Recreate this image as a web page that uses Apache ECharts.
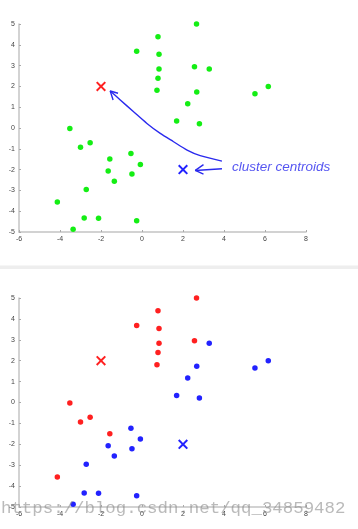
<!DOCTYPE html>
<html>
<head>
<meta charset="utf-8">
<script src="https://cdn.jsdelivr.net/npm/echarts@6/dist/echarts.min.js"></script>
<style>
html,body{margin:0;padding:0;background:#fff;}
#chart{width:358px;height:529px;}
</style>
</head>
<body>
<div id="chart"></div>
<script>
// ---- data ----
const pointsX = [0.78, -0.26, 0.83, 0.83, 0.78, 0.73, 1.69, -3.52, -2.53, -3.00, -0.54, -1.57, -0.08, -1.65, -0.49, -1.35, -2.72, -4.13, -2.82, -2.12, -0.26, -3.36, 2.66, 2.56, 3.28, 2.67, 2.23, 2.80, 5.51, 6.16];
const pointsY = [4.39, 3.69, 3.54, 2.84, 2.39, 1.81, 0.34, -0.02, -0.71, -0.93, -1.23, -1.49, -1.75, -2.07, -2.21, -2.56, -2.96, -3.56, -4.33, -4.34, -4.46, -4.87, 5.00, 2.95, 2.84, 1.73, 1.17, 0.21, 1.65, 2.00];
const clusterOf = ['R','R','R','R','R','R','B','R','R','R','B','R','B','B','B','B','B','R','B','B','B','B','R','R','B','B','B','B','B','B'];
const centroidRed = [-2, 2];
const centroidBlue = [2, -2];
const xTicks = [-6, -4, -2, 0, 2, 4, 6, 8];
const yTicks = [-5, -4, -3, -2, -1, 0, 1, 2, 3, 4, 5];
// hand-drawn annotation (data coordinates of the top panel)
const curveX = [-1.55, -1.06, -0.41, 0.24, 0.89, 1.54, 2.20, 2.84, 3.90];
const curveY = [1.78, 1.35, 0.78, 0.22, -0.26, -0.66, -1.06, -1.33, -1.59];
const bigHeadX = [-1.17, -1.55, -1.41];
const bigHeadY = [1.67, 1.78, 1.35];
const smallShaftX = [3.90, 2.60];
const smallShaftY = [-1.96, -2.04];
const smallHeadX = [3.00, 2.60, 3.00];
const smallHeadY = [-1.76, -2.04, -2.22];
const noteText = 'cluster centroids';
const notePos = [4.39, -1.87];
const watermark = 'https://blog.csdn.net/qq_34859482';

// ---- build ----
const zip = (xs, ys) => xs.map((x, i) => [x, ys[i]]);
const allPts = zip(pointsX, pointsY);
const redPts = allPts.filter((p, i) => clusterOf[i] === 'R');
const bluePts = allPts.filter((p, i) => clusterOf[i] === 'B');

const GREEN = '#14ee14', RED = '#ff2020', BLUE = '#2222ff', PEN = '#2a2aee';
const XPATH = 'path://M0,1.4L1.4,0L5,3.6L8.6,0L10,1.4L6.4,5L10,8.6L8.6,10L5,6.4L1.4,10L0,8.6L3.6,5Z';

function xAx(gi) {
  return {
    type: 'value', gridIndex: gi, min: xTicks[0], max: xTicks[xTicks.length - 1], interval: 2,
    axisLine: { onZero: false, lineStyle: { color: '#c4c4c4', width: 1.5 } },
    axisTick: { inside: true, length: 2, lineStyle: { color: '#aaa' } },
    axisLabel: { fontSize: 7, color: '#444', margin: 4, fontFamily: 'Liberation Sans' },
    splitLine: { show: false }
  };
}
function yAx(gi) {
  return {
    type: 'value', gridIndex: gi, min: yTicks[0], max: yTicks[yTicks.length - 1], interval: 1,
    axisLine: { onZero: false, lineStyle: { color: '#c4c4c4', width: 1.5 } },
    axisTick: { inside: true, length: 2, lineStyle: { color: '#aaa' } },
    axisLabel: { fontSize: 7, color: '#444', margin: 4, fontFamily: 'Liberation Sans' },
    splitLine: { show: false }
  };
}
const penLine = (xs, ys, smooth) => ({
  type: 'line', xAxisIndex: 0, yAxisIndex: 0, data: zip(xs, ys), smooth: smooth || false,
  symbol: 'none', lineStyle: { color: PEN, width: 1.4 }, silent: true, animation: false, z: 3
});
const cross = (gi, pt, color) => ({
  type: 'scatter', xAxisIndex: gi, yAxisIndex: gi, data: [pt], symbol: XPATH, symbolSize: 10,
  itemStyle: { color: color, opacity: 1 }, animation: false, z: 4
});
const dots = (gi, data, color) => ({
  type: 'scatter', xAxisIndex: gi, yAxisIndex: gi, data: data, symbol: 'circle', symbolSize: 5.5,
  itemStyle: { color: color, opacity: 1 }, animation: false, z: 2
});

const chart = echarts.init(document.getElementById('chart'), null, { renderer: 'canvas' });
chart.setOption({
  animation: false,
  backgroundColor: '#fff',
  grid: [
    { left: 19, top: 24, width: 287, height: 208 },
    { left: 19, top: 298, width: 287, height: 209 }
  ],
  xAxis: [xAx(0), xAx(1)],
  yAxis: [yAx(0), yAx(1)],
  series: [
    dots(0, allPts, GREEN),
    cross(0, centroidRed, RED),
    cross(0, centroidBlue, BLUE),
    penLine(curveX, curveY, 0.3),
    penLine(bigHeadX, bigHeadY),
    penLine(smallShaftX, smallShaftY),
    penLine(smallHeadX, smallHeadY),
    {
      type: 'scatter', xAxisIndex: 0, yAxisIndex: 0, data: [notePos], symbolSize: 0, silent: true,
      label: { show: true, position: 'right', distance: 0, formatter: noteText, color: PEN,
               fontSize: 13.5, fontStyle: 'italic', fontFamily: 'Liberation Sans' }
    },
    dots(1, redPts, RED),
    dots(1, bluePts, BLUE),
    cross(1, centroidRed, RED),
    cross(1, centroidBlue, BLUE)
  ],
  graphic: [
    { type: 'rect', left: 0, top: 265.5, shape: { width: 358, height: 3.5 }, style: { fill: '#eeeeee' }, silent: true },
    { type: 'text', left: 1, top: 500, z: 100, silent: true,
      style: { text: watermark, font: '17.4px "Liberation Mono"', fill: 'rgba(140,140,140,0.6)' } }
  ]
});
</script>
</body>
</html>
